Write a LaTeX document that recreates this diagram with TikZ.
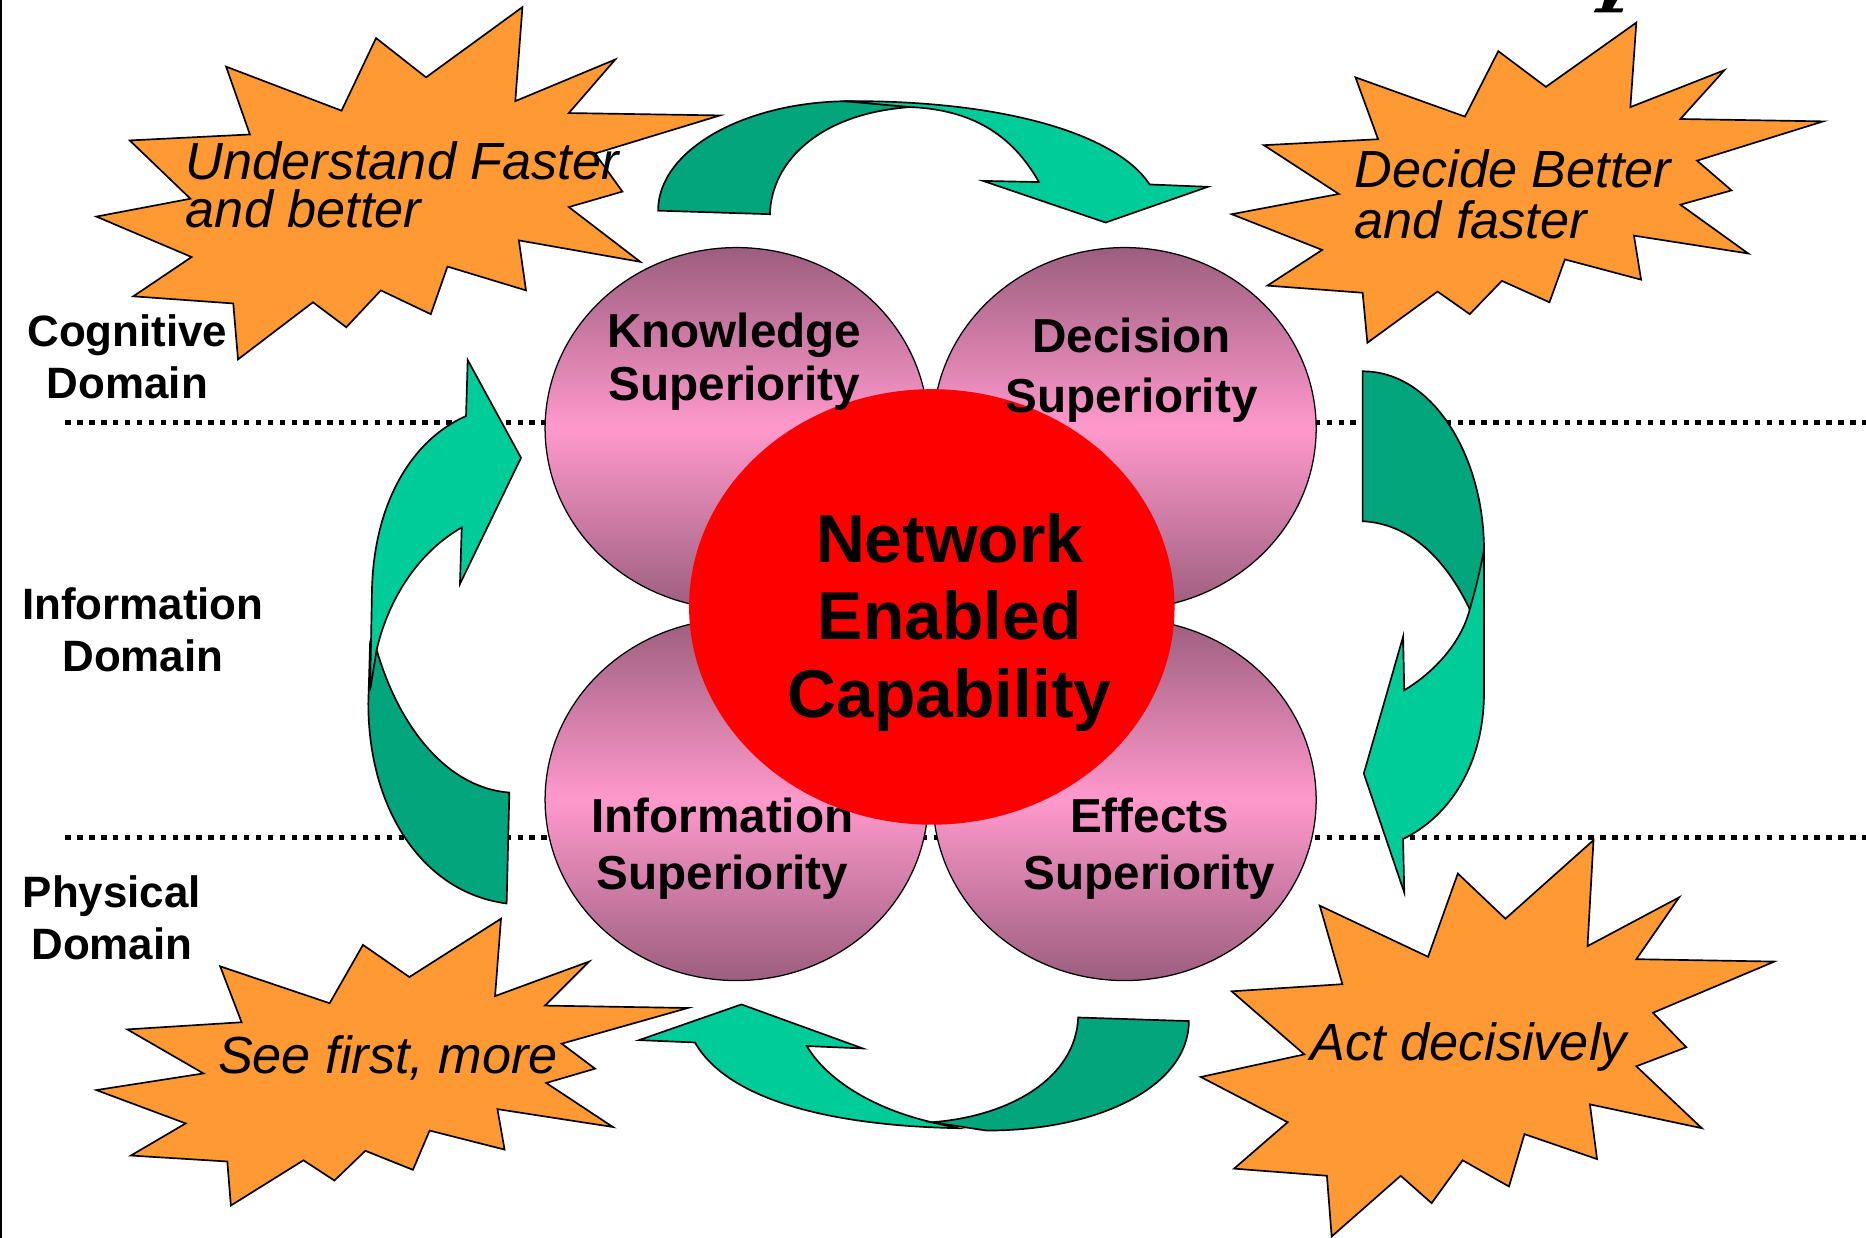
\documentclass[tikz,border=0pt]{standalone}
\usepackage{fontspec}
\setmainfont{Liberation Sans}
\usetikzlibrary{shapes.geometric}

\definecolor{burstorange}{RGB}{255,153,51}
\definecolor{arrowback}{RGB}{3,165,124}
\definecolor{arrowfront}{RGB}{0,204,153}
\definecolor{ballpink}{RGB}{255,153,204}
\definecolor{ballrim}{RGB}{156,94,126}

\begin{document}
\begin{tikzpicture}[x=0.02cm, y=-0.02cm]
       \tikzstyle{domainlabel}=[align=center, font=\bfseries\fontsize{21pt}{25pt}\selectfont]
       \tikzstyle{domainline}=[line width=0.08cm, dash pattern=on 0.09cm off 0.11cm]
       \tikzstyle{burst}=[draw=black, fill=burstorange, line width=0.8pt]
       \tikzstyle{bursttext}=[align=left, font=\itshape\fontsize{25pt}{23pt}\selectfont]
       \tikzstyle{arrowbackside}=[draw=black, fill=arrowback, line width=0.8pt]
       \tikzstyle{arrowfrontside}=[draw=black, fill=arrowfront, line width=0.8pt]
       \tikzstyle{superball}=[ellipse, draw=black, line width=0.6pt, inner sep=0pt,
          minimum width=6.44cm, minimum height=6.08cm,
          top color=ballrim, bottom color=ballrim, middle color=ballpink]
       \tikzstyle{superlabel}=[align=center, font=\bfseries\fontsize{22.8pt}{26pt}\selectfont]
       \tikzstyle{necball}=[ellipse, fill=red, inner sep=0pt, minimum width=8.16cm, minimum height=7.32cm]
       \tikzstyle{neclabel}=[align=center, font=\bfseries\fontsize{32.4pt}{37pt}\selectfont]

   \useasboundingbox (0,0) rectangle (1568,1040);

% slide edge and cut-off title
   \coordinate (edgetop) at (0.5,0);
   \coordinate (edgebot) at (0.5,1040);
   \draw[line width=1pt] (edgetop) -- (edgebot);
   \fill (1348,0) -- (1359,0) -- (1355,7) -- (1364,7) -- (1363,10.5) -- (1339,10.5) -- (1341,7) -- (1346,7) -- cycle;

% domain boundaries
   \coordinate (cogL) at (55,355);
   \coordinate (cogR) at (1568,355);
   \coordinate (phyL) at (55,704);
   \coordinate (phyR) at (1568,704);
   \draw[domainline] (cogL) -- (cogR);
   \draw[domainline] (phyL) -- (phyR);

   \node[domainlabel] (cognitive) at (107,300) {Cognitive\\Domain};
   \node[domainlabel] (information) at (120,529) {Information\\Domain};
   \node[domainlabel] (physical) at (94,771) {Physical\\Domain};

% top arrow: understand -> decide
   \draw[arrowbackside] (553,177) .. controls (553,126) and (626,85) .. (715,85)
       -- (765,90) .. controls (690,95) and (648,135) .. (647,180) -- cycle;
   \draw[arrowfrontside] (709,85) .. controls (850,84) and (940,115) .. (966,155)
       -- (1015,157) -- (929,187) -- (826,152) -- (873,153)
       .. controls (850,112) and (815,92) .. (765,90) -- cycle;

% right arrow: decide -> act
   \draw[arrowbackside] (1145,312) .. controls (1205,312) and (1247,385) .. (1247,462)
       -- (1247,480) -- (1235,512) .. controls (1215,470) and (1185,440) .. (1145,438) -- cycle;
   \draw[arrowfrontside] (1247,462) -- (1247,582) .. controls (1247,640) and (1220,685) .. (1179,705)
       -- (1180,750) -- (1146,650) -- (1179,535) -- (1180,580)
       .. controls (1205,565) and (1228,540) .. (1235,512)
       .. controls (1240,495) and (1244,478) .. (1247,462) -- cycle;

% bottom arrow: act -> see
   \draw[arrowfrontside] (584,876) .. controls (612,925) and (700,946) .. (805,948)
       -- (783,943) .. controls (735,932) and (695,908) .. (678,879)
       -- (725,881) -- (623,844) -- (537,874) -- cycle;
   \draw[arrowbackside] (906,855) .. controls (904,905) and (850,938) .. (783,943)
       -- (829,950) .. controls (925,950) and (999,912) .. (999,858) -- cycle;

% left arrow: see -> understand
   \draw[arrowbackside] (425.7,759.2) .. controls (355,750) and (309.5,680) .. (309.5,591)
       -- (311,540) -- (316.5,546) .. controls (335,610) and (375,662) .. (428,666) -- cycle;
   \draw[arrowfrontside] (391.6,349.6) -- (393,302.5) -- (437.8,384.7) -- (386.5,490.7)
       -- (388,443.2) .. controls (350,465) and (326,505) .. (316.5,546)
       -- (311,580) -- (312.5,500) .. controls (313,425) and (345,370) .. (391.6,349.6) -- cycle;

% starbursts
   \draw[burst] (439,6) -- (433,85) -- (517,50) -- (478,95) -- (605,97) -- (500,129) -- (523,161)
       -- (478,174) -- (538,220) -- (436,202) -- (442,244) -- (376,224) -- (362,264) -- (320,244)
       -- (291,275) -- (263,254) -- (200,302) -- (196,255) -- (112,249) -- (161,216) -- (81,182)
       -- (160,167) -- (109,118) -- (210,113) -- (190,56) -- (287,93) -- (316,32) -- (358,65) -- cycle;
   \node[bursttext, anchor=west] (understand) at (150,155) {Understand Faster\\and better};

   \draw[burst] (1375,19) -- (1370,90) -- (1449,59) -- (1412,100) -- (1532,102) -- (1426,135)
       -- (1455,160) -- (1412,172) -- (1469,213) -- (1373,198) -- (1379,235) -- (1315,218)
       -- (1302,254) -- (1262,236) -- (1235,264) -- (1208,245) -- (1149,288) -- (1145,246)
       -- (1065,240) -- (1111,210) -- (1035,180) -- (1125,163) -- (1062,122) -- (1158,117)
       -- (1139,65) -- (1231,98) -- (1259,43) -- (1299,73) -- cycle;
   \node[bursttext, anchor=west, font=\itshape\fontsize{25pt}{24.5pt}\selectfont] (decide) at (1132,163) {Decide Better\\and faster};

   \draw[burst] (421,772) -- (416,837) -- (495,808) -- (458,845) -- (578,847) -- (472,877)
       -- (500,898) -- (459,910) -- (515,947) -- (418,932) -- (424,966) -- (361,950)
       -- (347,983) -- (307,967) -- (281,992) -- (255,975) -- (194,1013) -- (191,976)
       -- (110,971) -- (156,944) -- (81,916) -- (171,902) -- (107,865) -- (203,859)
       -- (185,812) -- (277,843) -- (305,794) -- (344,821) -- cycle;
   \node[bursttext] (see) at (326,889) {See first, more};

   \draw[burst] (1339,706) -- (1334,795) -- (1411,754) -- (1375,806) -- (1491,808) -- (1389,851)
       -- (1417,880) -- (1375,896) -- (1430,948) -- (1336,928) -- (1342,974) -- (1281,953)
       -- (1268,997) -- (1229,975) -- (1203,1011) -- (1177,988) -- (1119,1039) -- (1115,988)
       -- (1037,982) -- (1082,943) -- (1009,905) -- (1096,886) -- (1035,833) -- (1128,827)
       -- (1109,761) -- (1200,804) -- (1225,734) -- (1265,772) -- cycle;
   \node[bursttext] (act) at (1234,880) {Act decisively};

% the four superiorities
   \node[superball] (knowball) at (619,360) {};
   \node[superball] (decball) at (945,360) {};
   \node[superball] (infball) at (619,672) {};
   \node[superball] (effball) at (945,672) {};
   \node[superlabel, font=\bfseries\fontsize{22.8pt}{27.5pt}\selectfont] (inflabel) at (607,713) {Information\\Superiority};

% network enabled capability
   \node[necball] (nec) at (783,510) {};
   \node[neclabel] (neclabel) at (798,523) {Network\\Enabled\\Capability};

   \node[superlabel, font=\bfseries\fontsize{22.8pt}{25pt}\selectfont] (knowlabel) at (617,304) {Knowledge\\Superiority};
   \node[superlabel, font=\bfseries\fontsize{22.8pt}{28.5pt}\selectfont] (declabel) at (951,311) {Decision\\Superiority};
   \node[superlabel, font=\bfseries\fontsize{22.8pt}{27.5pt}\selectfont] (efflabel) at (966,713) {Effects\\Superiority};

\end{tikzpicture}
\end{document}
